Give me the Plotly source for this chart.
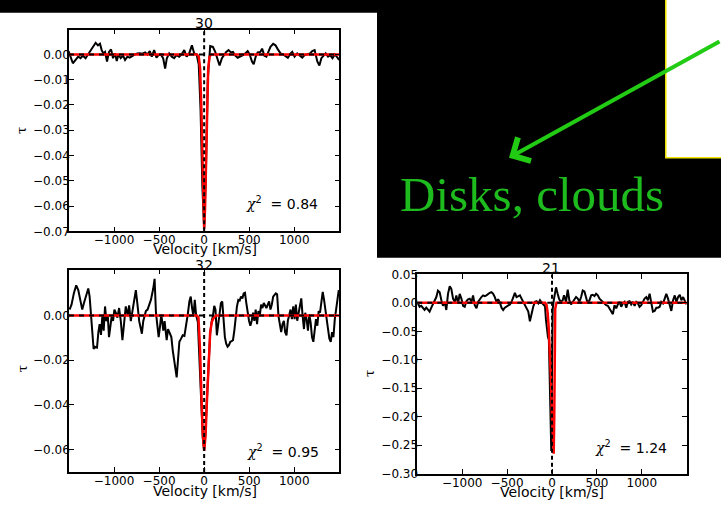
import plotly.graph_objects as go

W, H = 721, 505

# ---------------- spectra (velocity in km/s, optical depth tau) ----------------
vel_30 = [-1505, -1483, -1457, -1427, -1398, -1372, -1346, -1316, -1286, -1260,
          -1234, -1204, -1178, -1156, -1137, -1119, -1100, -1078, -1056, -1033,
          -1011, -989, -970, -951, -926, -900, -878, -852, -826, -796,
          -767, -741, -715, -685, -655, -629, -603, -581, -555, -529,
          -507, -481, -455, -433, -414, -388, -359, -333, -307, -277,
          -251, -221, -195, -166, -136, -110, -84, -60, -40, -20,
          0, 20, 40, 67, 97, 123, 149, 171, 197, 223,
          245, 271, 297, 320, 346, 372, 401, 431, 457, 483,
          505, 531, 550, 572, 594, 624, 643, 669, 691, 717,
          736, 766, 792, 818, 848, 877, 903, 929, 959, 978,
          1003, 1033, 1063, 1089, 1115, 1145, 1175, 1200, 1226, 1256,
          1279, 1301, 1323, 1349, 1375, 1398, 1424, 1450, 1480, 1498]
tau_30 = [0.0013, -0.0009, -0.0035, -0.0022, -0.0009, -0.0015, -0.0005, -0.0015, 0.0, 0.0017,
          0.0030, 0.0046, 0.0036, 0.0042, 0.0017, 0.0004, 0.0010, -0.0028, 0.0010, 0.0020,
          -0.0015, 0.0004, -0.0026, 0.0, -0.0015, -0.0005, -0.0022, -0.0009, -0.0013, -0.0005,
          0.0, 0.0004, 0.0005, 0.0003, 0.0008, 0.0, 0.0013, -0.0009, 0.0017, -0.0013,
          -0.0003, 0.0, -0.0015, -0.0056, -0.0015, 0.0004, -0.0009, -0.0015, -0.0003, -0.0009,
          0.0, 0.0017, -0.0009, 0.0004, 0.0036, 0.0004, 0.0, -0.0040, -0.0220, -0.0520,
          -0.0690, -0.0450, -0.0100, 0.0033, 0.0030, 0.0010, -0.0015, -0.0044, -0.0015, 0.0,
          0.0010, 0.0017, 0.0008, 0.0010, -0.0005, -0.0013, -0.0009, -0.0003, 0.0004, 0.0013,
          0.0, -0.0028, -0.0039, -0.0009, 0.0008, 0.0010, 0.0023, -0.0005, -0.0009, 0.0010,
          0.0030, 0.0042, 0.0036, 0.0020, 0.0004, 0.0, -0.0005, -0.0013, 0.0004, 0.0010,
          -0.0009, 0.0004, -0.0005, -0.0013, -0.0003, 0.0, 0.0004, 0.0013, 0.0017, -0.0028,
          -0.0044, -0.0015, -0.0005, 0.0004, -0.0009, -0.0003, -0.0015, 0.0, -0.0013, -0.0022]
model_vel_30 = [-1500, -80, -60, -45, -30, -20, -10, 0, 10, 20, 30, 45, 60, 80, 1500]
model_tau_30 = [0.0, 0.0, -0.0008, -0.0054, -0.0225, -0.042, -0.061, -0.069,
                -0.061, -0.042, -0.0225, -0.0054, -0.0008, 0.0, 0.0]

vel_32 = [-1494, -1472, -1446, -1420, -1397, -1371, -1353, -1334, -1308, -1286,
          -1271, -1256, -1241, -1227, -1212, -1189, -1174, -1160, -1145, -1130,
          -1115, -1100, -1085, -1070, -1056, -1041, -1026, -1011, -996, -981,
          -963, -944, -925, -907, -888, -870, -847, -833, -814, -795,
          -777, -758, -740, -721, -702, -691, -676, -662, -647, -628,
          -610, -591, -565, -550, -535, -520, -505, -491, -476, -453,
          -439, -416, -401, -379, -364, -349, -335, -320, -305, -290,
          -275, -256, -238, -219, -201, -182, -164, -149, -134, -119,
          -104, -89, -70, -50, -30, -15, 0, 15, 30, 48,
          67, 82, 97, 112, 126, 141, 156, 171, 186, 201,
          216, 230, 245, 260, 275, 290, 305, 320, 335, 349,
          364, 379, 394, 409, 424, 439, 453, 468, 483, 498,
          513, 528, 543, 557, 572, 587, 602, 617, 632, 647,
          662, 676, 691, 706, 721, 736, 751, 766, 781, 795,
          810, 825, 840, 855, 870, 885, 899, 914, 929, 944,
          959, 974, 989, 1004, 1018, 1033, 1048, 1063, 1078, 1093,
          1108, 1122, 1137, 1152, 1167, 1182, 1197, 1212, 1227, 1241,
          1256, 1271, 1286, 1301, 1316, 1331, 1345, 1360, 1375, 1390,
          1405, 1420, 1435, 1450, 1464, 1479, 1494]
tau_32 = [0.0026, 0.0048, 0.0099, 0.0134, 0.0113, 0.0062, 0.0026, 0.0055, 0.0091, 0.0120,
          0.0084, -0.0003, -0.0075, -0.0150, -0.0140, -0.0144, -0.0075, -0.0039, -0.0087, -0.0003,
          -0.0068, 0.0040, -0.0026, 0.0004, -0.0097, -0.0039, -0.0003, -0.0025, 0.0026, 0.0012,
          -0.0010, 0.0033, -0.0026, -0.0111, -0.0046, 0.0040, -0.0003, 0.0045, -0.0026, 0.0026,
          0.0058, 0.0113, 0.0048, -0.0026, -0.0061, -0.0082, -0.0026, -0.0003, 0.0019, 0.0026,
          0.0048, 0.0069, 0.0120, 0.0163, 0.0012, -0.0046, -0.0097, -0.0053, 0.0004, -0.0068,
          -0.0026, -0.0111, -0.0061, -0.0082, -0.0097, -0.0155, -0.0198, -0.0247, -0.0277, -0.0198,
          -0.0118, -0.0104, -0.0089, -0.0092, -0.0053, 0.0004, 0.0062, 0.0084, 0.0033, -0.0003,
          0.0069, 0.0000, -0.0030, -0.0200, -0.0420, -0.0550, -0.0605, -0.0520, -0.0380, -0.0200,
          -0.0080, -0.0030, -0.0003, 0.0043, 0.0026, -0.0089, -0.0032, 0.0012, 0.0055, 0.0062,
          -0.0024, -0.0097, -0.0126, -0.0140, -0.0133, -0.0118, -0.0115, -0.0111, -0.0068, -0.0003,
          0.0040, 0.0069, 0.0066, 0.0084, 0.0076, 0.0098, 0.0101, 0.0055, 0.0004, -0.0024,
          -0.0046, -0.0024, 0.0012, -0.0024, 0.0026, -0.0039, 0.0019, -0.0003, 0.0048, 0.0033,
          0.0055, 0.0040, 0.0033, 0.0048, 0.0062, 0.0026, 0.0048, 0.0084, 0.0091, 0.0098,
          0.0094, -0.0003, -0.0039, -0.0075, -0.0039, -0.0024, -0.0075, -0.0089, -0.0024, -0.0003,
          0.0026, -0.0017, 0.0040, -0.0017, 0.0048, -0.0024, 0.0012, 0.0055, 0.0076, -0.0003,
          -0.0061, 0.0012, -0.0017, -0.0068, 0.0004, -0.0032, -0.0097, -0.0118, -0.0061, -0.0017,
          -0.0046, 0.0019, 0.0012, 0.0055, 0.0105, 0.0069, 0.0019, -0.0024, -0.0061, -0.0104,
          -0.0118, -0.0075, -0.0097, -0.0017, 0.0026, 0.0084, 0.0113]
model_vel_32 = [-1500, -80, -63, -45, -30, -15, 0, 15, 30, 48, 67, 85, 104, 130, 1500]
model_tau_32 = [0.0, 0.0, -0.001, -0.016, -0.036, -0.053, -0.0605, -0.054,
                -0.039, -0.020, -0.0075, -0.003, -0.0012, 0.0, 0.0]

vel_21 = [-1493, -1474, -1456, -1437, -1419, -1400, -1381, -1363, -1344, -1326,
          -1307, -1288, -1270, -1251, -1232, -1214, -1195, -1177, -1158, -1139,
          -1121, -1102, -1083, -1065, -1046, -1028, -1009, -990, -972, -953,
          -935, -916, -897, -879, -860, -841, -823, -804, -786, -767,
          -748, -730, -711, -693, -674, -655, -637, -618, -600, -581,
          -562, -544, -525, -506, -488, -469, -450, -432, -413, -395,
          -376, -357, -339, -320, -302, -283, -264, -246, -227, -209,
          -190, -171, -153, -134, -115, -97, -78, -67, -55, -45,
          -35, -22, -15, -8, 0, 8, 20, 30, 45, 63,
          78, 97, 119, 134, 156, 175, 193, 212, 231, 249,
          268, 287, 305, 324, 342, 361, 380, 398, 417, 436,
          454, 473, 491, 510, 529, 547, 566, 585, 603, 622,
          640, 659, 678, 696, 715, 733, 752, 771, 789, 808,
          827, 845, 864, 882, 901, 920, 938, 957, 975, 994,
          1013, 1031, 1050, 1068, 1087, 1106, 1124, 1143, 1162, 1180,
          1199, 1217, 1236, 1255, 1273, 1292, 1311, 1329, 1348, 1367,
          1385, 1404, 1423, 1441, 1460, 1479, 1497]
tau_21 = [-0.0011, -0.0068, -0.0051, -0.0097, -0.0125, -0.0085, -0.0125, -0.0154, -0.0085, -0.0028,
          0.0017, 0.0102, 0.0216, 0.0188, 0.0046, -0.0051, 0.0017, -0.0125, 0.0159, 0.0290,
          0.0245, 0.0074, 0.0017, 0.0131, -0.0011, 0.0159, 0.0074, -0.0051, -0.0068, 0.0028,
          0.0063, 0.0074, 0.0017, 0.0131, -0.0040, -0.0097, 0.0017, 0.0074, 0.0102, 0.0131,
          0.0119, 0.0131, 0.0159, 0.0176, 0.0188, 0.0159, 0.0102, 0.0017, 0.0063, 0.0006,
          -0.0085, -0.0125, -0.0085, -0.0068, -0.0040, -0.0028, 0.0017, 0.0102, 0.0176, 0.0102,
          0.0119, 0.0131, 0.0074, 0.0017, -0.0051, -0.0085, -0.0154, -0.0324, -0.0182, -0.0068,
          0.0017, 0.0028, -0.0011, 0.0046, 0.0006, -0.0028, -0.0060, -0.0300, -0.0560, -0.0600,
          -0.0650, -0.2000, -0.2600, -0.2600, -0.1200, -0.0100, 0.0050, 0.0150, 0.0273, 0.0159,
          0.0074, 0.0017, 0.0046, 0.0131, 0.0017, 0.0233, 0.0046, -0.0028, 0.0017, 0.0046,
          0.0102, 0.0074, 0.0017, 0.0102, 0.0216, 0.0199, 0.0074, -0.0011, 0.0046, 0.0131,
          0.0142, 0.0119, 0.0159, 0.0131, 0.0074, 0.0046, 0.0017, -0.0011, -0.0040, -0.0051,
          -0.0097, -0.0142, -0.0199, -0.0040, -0.0097, -0.0028, 0.0017, -0.0068, -0.0011, 0.0017,
          -0.0085, 0.0017, 0.0028, -0.0028, 0.0017, -0.0051, 0.0017, -0.0011, -0.0068, -0.0040,
          0.0028, 0.0074, 0.0102, 0.0046, 0.0159, -0.0011, -0.0154, -0.0142, -0.0085, -0.0085,
          -0.0068, 0.0017, -0.0011, 0.0074, 0.0159, 0.0074, -0.0051, -0.0142, 0.0046, 0.0131,
          0.0017, 0.0102, 0.0142, 0.0046, 0.0102, 0.0046, -0.0028]
model_vel_21 = [-1500, -75, -60, -48, -38, -30, -15, 0, 12, 19, 25, 30, 36, 50, 1500]
model_tau_21 = [0.0, 0.0, -0.004, -0.018, -0.040, -0.061, -0.12, -0.20,
                -0.255, -0.265, -0.20, -0.08, -0.01, 0.0, 0.0]

# ---------------- labels and ticks ----------------
source_ids = ["30", "32", "21"]
chi2_values = ["0.84", "0.95", "1.24"]
x_ticks = [-1000, -500, 0, 500, 1000]
y_ticks_30 = [-0.07, -0.06, -0.05, -0.04, -0.03, -0.02, -0.01, 0.0]
y_ticks_32 = [-0.06, -0.04, -0.02, 0.0]
y_ticks_21 = [-0.30, -0.25, -0.20, -0.15, -0.10, -0.05, 0.0, 0.05]
x_title = "Velocity [km/s]"
y_title = "τ"
caption = "Disks, clouds"

for v, t in ((vel_30, tau_30), (vel_32, tau_32), (vel_21, tau_21)):
    assert len(v) == len(t)


def fx(p):
    return p / W


def fy(p):
    return 1 - p / H


# pixel boxes (left, top, right, bottom) and text anchors for each panel
panels = [
    dict(vel=vel_30, tau=tau_30, mv=model_vel_30, mt=model_tau_30,
         box=(69, 23.3, 339.3, 230.7), yr=[-0.07, 0.0098], yt=y_ticks_30,
         title_xy=(204, 16.5), xlab_xy=(204.5, 249), ylab_xy=(21.5, 127), chi_xy=(244, 202)),
    dict(vel=vel_32, tau=tau_32, mv=model_vel_32, mt=model_tau_32,
         box=(69, 270, 339.3, 478.3), yr=[-0.07, 0.0205], yt=y_ticks_32,
         title_xy=(204, 265), xlab_xy=(205, 498), ylab_xy=(22.5, 372), chi_xy=(245, 457)),
    dict(vel=vel_21, tau=tau_21, mv=model_vel_21, mt=model_tau_21,
         box=(417.3, 275, 686.7, 480), yr=[-0.30, 0.05], yt=y_ticks_21,
         title_xy=(551, 268.5), xlab_xy=(551.5, 499), ylab_xy=(369.5, 377), chi_xy=(592.5, 453)),
]

fig = go.Figure()
shapes = []
annotations = []
tick_font = dict(family="DejaVu Sans", size=12, color="black")

# slide background: black block with the white inset at the top right
shapes.append(dict(type="rect", xref="paper", yref="paper", x0=fx(0), x1=fx(377),
                   y0=fy(6), y1=1.02, fillcolor="black", line=dict(width=0), layer="below"))
shapes.append(dict(type="rect", xref="paper", yref="paper", x0=fx(377), x1=1.02,
                   y0=fy(258), y1=1.02, fillcolor="black", line=dict(width=0), layer="below"))
shapes.append(dict(type="rect", xref="paper", yref="paper", x0=fx(665.8), x1=1.02,
                   y0=fy(155), y1=1.02, fillcolor="white",
                   line=dict(color="#f2e600", width=1.5), layer="below"))

for i, p in enumerate(panels, start=1):
    sfx = "" if i == 1 else str(i)
    xa, ya = "x" + sfx, "y" + sfx
    left, top, right, bottom = p["box"]

    fig.add_trace(go.Scatter(x=p["vel"], y=p["tau"], mode="lines",
                             line=dict(color="black", width=2),
                             xaxis=xa, yaxis=ya, showlegend=False, hoverinfo="skip"))
    fig.add_trace(go.Scatter(x=p["mv"], y=p["mt"], mode="lines",
                             line=dict(color="#ff0000", width=2.5),
                             xaxis=xa, yaxis=ya, showlegend=False, hoverinfo="skip"))

    # dashed reference lines at tau = 0 and v = 0
    shapes.append(dict(type="line", xref=xa + " domain", yref=ya, x0=0, x1=1, y0=0, y1=0,
                       line=dict(color="black", width=2, dash="5px,5px"), layer="above"))
    shapes.append(dict(type="line", xref=xa, yref=ya + " domain", x0=0, x1=0, y0=0, y1=1,
                       line=dict(color="black", width=2, dash="4px,3px"), layer="above"))

    axis_common = dict(showline=True, linecolor="black", linewidth=1.5, mirror="ticks",
                       ticks="inside", ticklen=5, tickwidth=1, tickcolor="black",
                       showgrid=False, zeroline=False, tickfont=tick_font, fixedrange=True)
    fig.layout["xaxis" + sfx] = dict(domain=[fx(left), fx(right)], range=[-1500, 1500],
                                     tickvals=x_ticks, anchor=ya, ticklabelstandoff=-3,
                                     **axis_common)
    fig.layout["yaxis" + sfx] = dict(domain=[fy(bottom), fy(top)], range=p["yr"],
                                     tickvals=p["yt"], tickformat=".2f", anchor=xa,
                                     ticklabelstandoff=-5, **axis_common)

    tx, ty = p["title_xy"]
    annotations.append(dict(text=source_ids[i - 1], x=fx(tx), y=fy(ty), xref="paper", yref="paper",
                            showarrow=False, xanchor="center", yanchor="middle",
                            font=dict(family="DejaVu Sans", size=14, color="black")))
    lx, ly = p["xlab_xy"]
    annotations.append(dict(text=x_title, x=fx(lx), y=fy(ly), xref="paper", yref="paper",
                            showarrow=False, xanchor="center", yanchor="middle",
                            font=dict(family="DejaVu Sans", size=14, color="black")))
    yx, yy = p["ylab_xy"]
    annotations.append(dict(text=y_title, x=fx(yx), y=fy(yy), xref="paper", yref="paper",
                            showarrow=False, xanchor="center", yanchor="middle", textangle=-90,
                            font=dict(family="DejaVu Serif", size=13, color="black")))
    cx, cy = p["chi_xy"]
    chi_text = ("<span style='font-family:DejaVu Serif'><i>χ</i></span>"
                "<sup>2</sup>  = " + chi2_values[i - 1])
    annotations.append(dict(text=chi_text, x=fx(cx), y=fy(cy), xref="paper", yref="paper",
                            showarrow=False, xanchor="left", yanchor="middle",
                            font=dict(family="DejaVu Sans", size=14, color="black")))

# green pointer and caption on the black block
annotations.append(dict(text="", x=fx(509), y=fy(155), xref="paper", yref="paper",
                        showarrow=True, ax=231, ay=-117, axref="pixel", ayref="pixel",
                        arrowhead=4, arrowsize=1.3, arrowwidth=4, arrowcolor="#22cc14",
                        standoff=0))
annotations.append(dict(text=caption, x=fx(398), y=fy(193), xref="paper", yref="paper",
                        showarrow=False, xanchor="left", yanchor="middle",
                        font=dict(family="Liberation Serif", size=49, color="#1dbb1d")))

fig.update_layout(width=W, height=H, autosize=False,
                  margin=dict(l=0, r=0, t=0, b=0, pad=0),
                  paper_bgcolor="white", plot_bgcolor="white",
                  shapes=shapes, annotations=annotations, showlegend=False)

fig.write_html("out.html", config={"displayModeBar": False})
